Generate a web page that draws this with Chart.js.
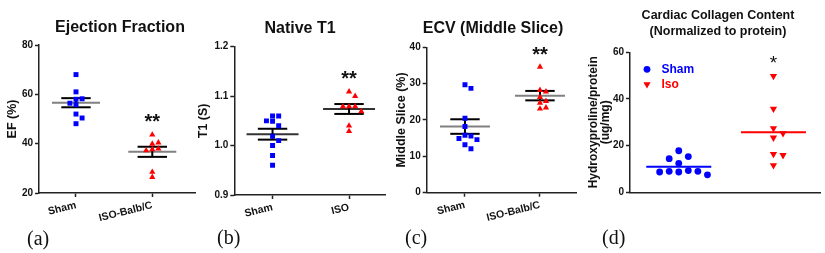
<!DOCTYPE html>
<html>
<head>
<meta charset="utf-8">
<script src="https://cdn.jsdelivr.net/npm/chart.js@4.4.1/dist/chart.umd.min.js"></script>
<style>
	html, body { margin: 0; padding: 0; background: #fff; }
	#page { position: relative; width: 825px; height: 253px; overflow: hidden; font-family: "Liberation Sans", Arial, sans-serif; }
	.panel { position: absolute; top: 0; height: 253px; }
	.title { position: absolute; font-weight: bold; color: #111; white-space: nowrap; text-align: center; transform: translate(-50%, -50%); }
	.tag { position: absolute; font-family: "Liberation Serif", "Times New Roman", serif; font-size: 20px; color: #111; transform: translateY(-50%); }
</style>
</head>
<body>
<div id="page">
	<div class="panel" style="left:0;width:200px"><canvas id="chart-ef"></canvas></div>
	<div class="panel" style="left:192px;width:198px"><canvas id="chart-t1"></canvas></div>
	<div class="panel" style="left:390px;width:195px"><canvas id="chart-ecv"></canvas></div>
	<div class="panel" style="left:588px;width:237px"><canvas id="chart-collagen"></canvas></div>

	<div class="title" style="left:120px;top:27px;font-size:16px">Ejection Fraction</div>
	<div class="title" style="left:300px;top:28px;font-size:16px">Native T1</div>
	<div class="title" style="left:493px;top:28px;font-size:16px">ECV (Middle Slice)</div>
	<div class="title" style="left:718px;top:23px;font-size:12.5px;line-height:16px">Cardiac Collagen Content<br>(Normalized to protein)</div>

	<div class="tag" style="left:27px;top:238px">(a)</div>
	<div class="tag" style="left:217px;top:237px">(b)</div>
	<div class="tag" style="left:405px;top:237px">(c)</div>
	<div class="tag" style="left:602px;top:237px">(d)</div>
</div>

<script>
//---------------------------------------------------------
// Data
//---------------------------------------------------------
const EF_GROUPS = ["Sham", "ISO-Balb/C"];
const EF_SHAM = [68, 61, 58, 58.2, 56.4, 55.8, 52, 50.4, 48.1];
const EF_ISO = [43.6, 39.9, 40.4, 38, 37.7, 37.2, 28.5, 26.4];
const EF_MEAN = [56.6, 36.7];
const EF_SEM = [1.85, 2.05];
const EF_TICKS = [20, 40, 60, 80];
const EF_SIG = ["", "**"];

const T1_GROUPS = ["Sham", "ISO"];
const T1_SHAM = [1.06, 1.06, 1.05, 1.049, 1.04, 1.019, 1.01, 1.0, 0.98, 0.96];
const T1_ISO = [1.109, 1.1, 1.079, 1.079, 1.079, 1.069, 1.04, 1.029];
const T1_MEAN = [1.023, 1.074];
const T1_SEM = [0.011, 0.01];
const T1_TICKS = [0.9, 1.0, 1.1, 1.2];
const T1_SIG = ["", "**"];

const ECV_GROUPS = ["Sham", "ISO-Balb/C"];
const ECV_SHAM = [29.7, 28.7, 20.5, 18.2, 15.8, 15.6, 14.9, 14.6, 13.2, 12.1];
const ECV_ISO = [34.6, 28.2, 27.8, 26.3, 25.2, 24.7, 23.4, 23.1];
const ECV_MEAN = [18.2, 26.7];
const ECV_SEM = [2.0, 1.3];
const ECV_TICKS = [0, 10, 20, 30, 40];
const ECV_SIG = ["", "**"];

const COL_GROUPS = ["Sham", "Iso"];
const COL_SHAM = [17.8, 15.3, 14.4, 12.4, 9.3, 9.0, 9.0, 8.7, 8.7, 7.5];
const COL_ISO = [49.8, 35.8, 27.4, 25.3, 23.4, 16.4, 15.9, 11.6];
const COL_MEAN = [11.0, 25.7];
const COL_TICKS = [0, 20, 40, 60];
const COL_SIG = ["", "*"];

//---------------------------------------------------------
// Helpers
//---------------------------------------------------------
const BLUE = "#0000ff";
const RED = "#ff0000";
const INK = "#222";
Chart.defaults.font.family = '"Liberation Sans", Arial, sans-serif';

// simple beeswarm: points closer than thr (in value units) are pushed sideways
const swarm = (values, center, step, thr) => {
	const placed = [];
	return values.map((v) => {
		for (let k = 0; ; k++) {
			const slot = k === 0 ? 0 : k % 2 ? (k + 1) / 2 : -k / 2;
			if (!placed.some((p) => p.slot === slot && Math.abs(p.v - v) < thr)) {
				placed.push({ slot, v });
				return { x: center + slot * step, y: v };
			}
		}
	});
};

const strokeLine = (ctx, x1, y1, x2, y2, color, width) => {
	ctx.beginPath();
	ctx.strokeStyle = color;
	ctx.lineWidth = width;
	ctx.moveTo(x1, y1);
	ctx.lineTo(x2, y2);
	ctx.stroke();
};

// mean / SEM bars, significance stars and an in-plot legend
const dotStats = {
	id: "dotStats",
	beforeDatasetsDraw(chart, args, opts) {
		const { ctx, scales: { x, y } } = chart;
		ctx.save();
		opts.means.forEach((m, i) => {
			const cx = x.getPixelForValue(i + 1);
			const py = y.getPixelForValue(m);
			strokeLine(ctx, cx - opts.meanHalf, py, cx + opts.meanHalf, py, opts.meanColors[i], 2);
			const s = opts.sems ? opts.sems[i] : 0;
			if (s) {
				const up = y.getPixelForValue(m + s);
				const lo = y.getPixelForValue(m - s);
				strokeLine(ctx, cx - opts.semHalf, up, cx + opts.semHalf, up, "#000", 2);
				strokeLine(ctx, cx - opts.semHalf, lo, cx + opts.semHalf, lo, "#000", 2);
				strokeLine(ctx, cx, up, cx, lo, "#000", 2);
			}
		});
		ctx.restore();
	},
	afterDatasetsDraw(chart, args, opts) {
		const { ctx, chartArea, scales: { x, y } } = chart;
		ctx.save();
		ctx.fillStyle = "#111";
		ctx.textAlign = "center";
		ctx.textBaseline = "alphabetic";
		ctx.font = opts.sigFont;
		opts.sig.forEach((txt, i) => {
			if (!txt) return;
			const top = Math.max(...chart.data.datasets[i].data.map((p) => p.y));
			const cy = y.getPixelForValue(top) - 18;
			ctx.fillText(txt, x.getPixelForValue(i + 1), cy + opts.sigSize * 0.58);
		});
		if (opts.legend) {
			ctx.textAlign = "left";
			ctx.textBaseline = "middle";
			ctx.font = 'bold 12px "Liberation Sans", Arial, sans-serif';
			chart.data.datasets.forEach((ds, i) => {
				const lx = chartArea.left + 17;
				const ly = chartArea.top + 17 + i * 15;
				ctx.fillStyle = ds.backgroundColor;
				Chart.helpers.drawPoint(ctx, { pointStyle: ds.pointStyle, radius: ds.pointRadius, rotation: ds.rotation, borderWidth: 0 }, lx, ly);
				ctx.fillText(ds.label, lx + 14.5, ly);
			});
		}
		ctx.restore();
	},
};

//---------------------------------------------------------
// Chart factory
//---------------------------------------------------------
const dotChart = (id, p) => {
	const datasets = p.groups.map((name, i) => ({
		label: name,
		data: swarm(p.values[i], i + 1, p.step, p.thr),
		pointStyle: p.styles[i],
		rotation: p.rotations[i],
		pointRadius: p.radii[i],
		pointHoverRadius: p.radii[i],
		backgroundColor: p.colors[i],
		borderColor: p.colors[i],
		borderWidth: 0,
	}));
	const yTicks = p.yTicks;
	return new Chart(document.getElementById(id), {
		type: "scatter",
		data: { datasets },
		plugins: [dotStats],
		options: {
			responsive: true,
			maintainAspectRatio: false,
			animation: false,
			events: [],
			layout: { padding: { top: p.top, right: p.right, left: 0, bottom: 0 } },
			scales: {
				x: {
					type: "linear",
					min: p.xMin,
					max: p.xMax,
					afterBuildTicks: (s) => {
						s.ticks = p.groups.map((g, i) => ({ value: i + 1 }));
					},
					afterFit: (s) => {
						s.height = p.xHeight;
					},
					border: { display: true, color: INK, width: 1.5 },
					grid: { display: p.xTicks, drawOnChartArea: false, drawTicks: true, tickLength: 4, tickColor: INK, tickWidth: 1.5 },
					ticks: {
						display: p.xTicks,
						minRotation: 14,
						maxRotation: 14,
						padding: 2,
						color: "#111",
						font: { size: 10.5, weight: "bold" },
						callback: (v) => p.groups[v - 1],
					},
				},
				y: {
					min: yTicks[0],
					max: yTicks[yTicks.length - 1],
					afterBuildTicks: (s) => {
						s.ticks = yTicks.map((v) => ({ value: v }));
					},
					afterFit: (s) => {
						s.width = p.yWidth;
					},
					border: { display: true, color: INK, width: 1.5 },
					grid: { display: true, drawOnChartArea: false, drawTicks: true, tickLength: 4, tickColor: INK, tickWidth: 1.5 },
					ticks: {
						padding: 2,
						color: "#111",
						font: { size: 10, weight: "bold" },
						callback: (v) => v.toFixed(p.decimals),
					},
					title: {
						display: true,
						text: p.yTitle,
						color: "#111",
						font: { size: p.yTitleSize, weight: "bold", lineHeight: p.yTitleLine },
						padding: { top: p.yTitlePad, bottom: 0 },
					},
				},
			},
			plugins: {
				legend: { display: false },
				tooltip: { enabled: false },
				dotStats: {
					means: p.means,
					sems: p.sems,
					meanColors: p.meanColors,
					meanHalf: p.meanHalf,
					semHalf: 14.7,
					sig: p.sig,
					sigFont: p.sigFont,
					sigSize: p.sigSize,
					legend: p.legend,
				},
			},
		},
	});
};

const SQUARE_TRI = { styles: ["rect", "triangle"], rotations: [0, 0], radii: [3.5, 3.6], colors: [BLUE, RED] };
const STAR2 = { sigFont: 'bold 20px "Liberation Sans", Arial, sans-serif', sigSize: 20 };

dotChart("chart-ef", {
	...SQUARE_TRI, ...STAR2,
	groups: EF_GROUPS, values: [EF_SHAM, EF_ISO], means: EF_MEAN, sems: EF_SEM, sig: EF_SIG,
	yTicks: EF_TICKS, yTitle: "EF (%)", yTitleSize: 12.5, yTitleLine: 1.2, yTitlePad: 5, decimals: 0,
	top: 45, right: 5, yWidth: 39, xHeight: 60, xMin: 0.515, xMax: 2.56, xTicks: true,
	step: 0.08, thr: (5 * 60) / 148, meanHalf: 24, meanColors: ["#808080", "#808080"],
});

dotChart("chart-t1", {
	...SQUARE_TRI, ...STAR2,
	groups: T1_GROUPS, values: [T1_SHAM, T1_ISO], means: T1_MEAN, sems: T1_SEM, sig: T1_SIG,
	yTicks: T1_TICKS, yTitle: "T1 (S)", yTitleSize: 12.5, yTitleLine: 1.2, yTitlePad: 4.5, decimals: 1,
	top: 46.7, right: 5, yWidth: 42.3, xHeight: 58, xMin: 0.5, xMax: 2.47, xTicks: true,
	step: 0.08, thr: (5 * 0.3) / 148, meanHalf: 26, meanColors: ["#333", "#333"],
});

dotChart("chart-ecv", {
	...SQUARE_TRI, ...STAR2,
	groups: ECV_GROUPS, values: [ECV_SHAM, ECV_ISO], means: ECV_MEAN, sems: ECV_SEM, sig: ECV_SIG,
	yTicks: ECV_TICKS, yTitle: "Middle Slice (%)", yTitleSize: 12.5, yTitleLine: 1.2, yTitlePad: 4.5, decimals: 0,
	top: 47.3, right: 9, yWidth: 36.7, xHeight: 60.3, xMin: 0.49, xMax: 2.48, xTicks: true,
	step: 0.08, thr: (5 * 40) / 145.4, meanHalf: 25, meanColors: ["#808080", "#808080"],
});

dotChart("chart-collagen", {
	styles: ["circle", "triangle"], rotations: [0, 180], radii: [3.4, 4.2], colors: [BLUE, RED],
	sigFont: '19px "Liberation Sans", Arial, sans-serif', sigSize: 19,
	groups: COL_GROUPS, values: [COL_SHAM, COL_ISO], means: COL_MEAN, sems: null, sig: COL_SIG,
	yTicks: COL_TICKS, yTitle: ["Hydroxyproline/protein", "(ug/mg)"], yTitleSize: 12, yTitleLine: 1.0, yTitlePad: 0, decimals: 0,
	top: 52.3, right: 2, yWidth: 42, xHeight: 60.7, xMin: 0.485, xMax: 2.5, xTicks: false,
	step: 0.101, thr: (8 * 60) / 140, meanHalf: 32.5, meanColors: [BLUE, RED], legend: true,
});
</script>
</body>
</html>
